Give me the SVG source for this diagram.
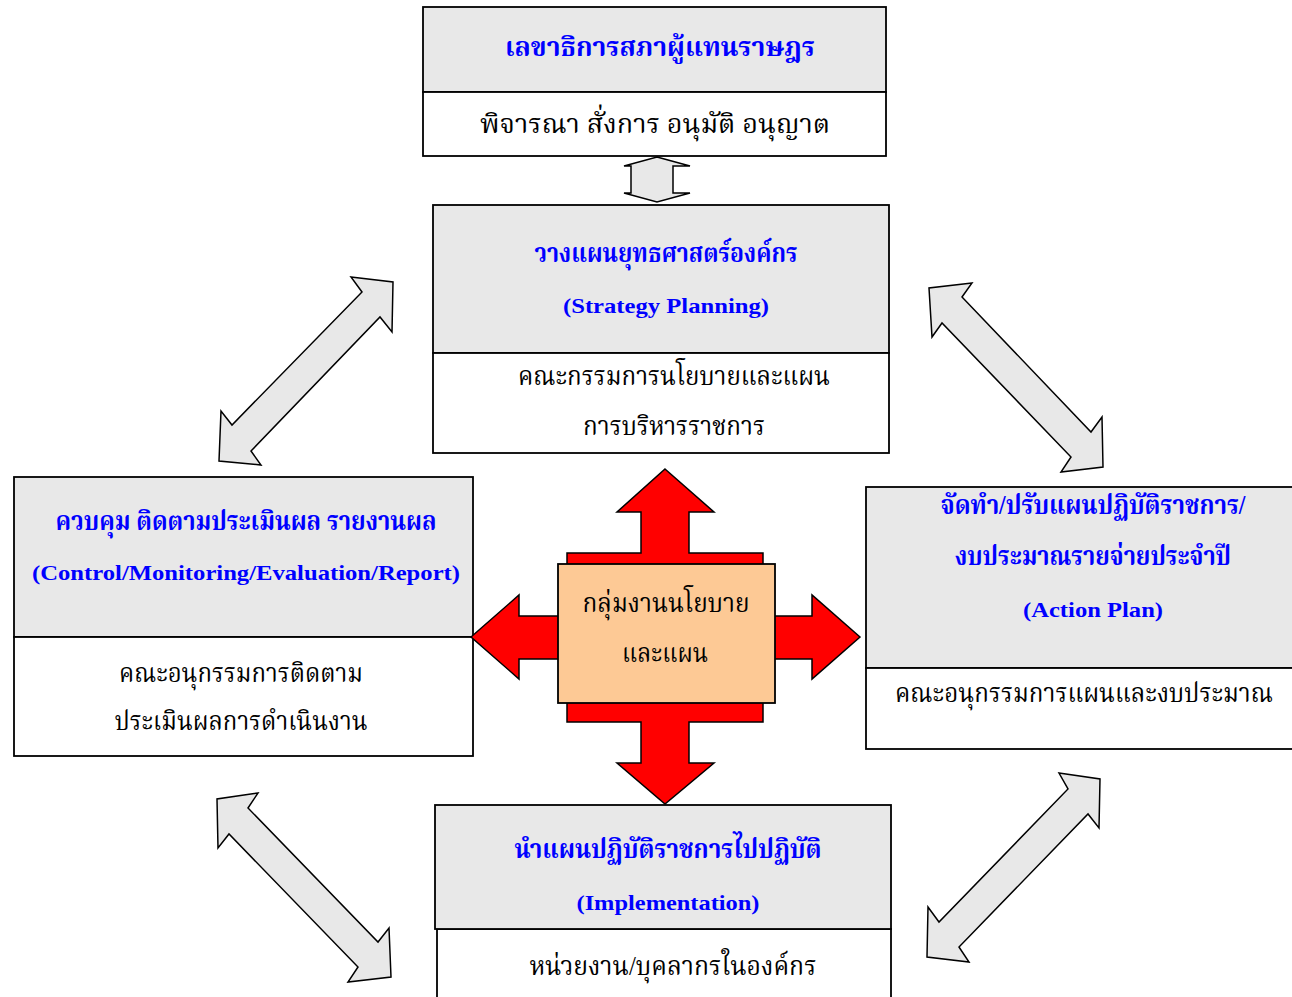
<svg xmlns="http://www.w3.org/2000/svg" width="1292" height="997" viewBox="0 0 1292 997">
<style>
.gray{fill:#E8E8E8;stroke:#000;stroke-width:1.8}
.white{fill:#FFFFFF;stroke:#000;stroke-width:1.8}
.dbl{fill:#E8E8E8;stroke:#000;stroke-width:1.5;stroke-linejoin:miter}
.red{fill:#FF0000;stroke:#000;stroke-width:1.5}
.core{fill:#FDC995;stroke:#000;stroke-width:1.8}
text{text-anchor:middle;font-family:"Liberation Serif","Noto Serif Thai","Noto Sans Thai","DejaVu Sans",serif}
.t{fill:#0000FF;font-weight:bold;font-size:27px}
.e{fill:#0000FF;font-weight:bold;font-size:22px}
.s{fill:#000;font-size:27px}
</style>
<rect width="1292" height="997" fill="#FFFFFF"/>
<g id="connectors">
<polygon class="dbl" points="657,157 690,166 673,166 673,193 690,193 657,202 624,193 631,193 631,166 624,166"/>
<polygon class="dbl" points="351,277 393,282 392,332 380,317 251,451 261,465 219,461 221,411 232,425 362,292"/>
<polygon class="dbl" points="972,283 929,288 932,337 942,323 1071,457 1061,472 1103,467 1102,417 1091,432 962,297"/>
<polygon class="dbl" points="258,793 217,799 218,848 229,834 358,967 348,982 391,977 389,928 378,942 248,808"/>
<polygon class="dbl" points="1059,773 1100,779 1099,828 1088,814 959,947 969,962 927,957 928,907 939,922 1068,789"/>
</g>
<g id="top">
<rect class="gray" x="423" y="7" width="463" height="85"/>
<rect class="white" x="423" y="92" width="463" height="64"/>
<text class="t" x="660" y="56" textLength="310" lengthAdjust="spacingAndGlyphs">เลขาธิการสภาผู้แทนราษฎร</text>
<text class="s" x="655" y="133" textLength="350" lengthAdjust="spacingAndGlyphs">พิจารณา สั่งการ อนุมัติ อนุญาต</text>
</g>
<g id="strategy">
<rect class="gray" x="433" y="205" width="456" height="148"/>
<rect class="white" x="433" y="353" width="456" height="100"/>
<text class="t" x="666" y="262" textLength="263" lengthAdjust="spacingAndGlyphs">วางแผนยุทธศาสตร์องค์กร</text>
<text class="e" x="666" y="313" textLength="206" lengthAdjust="spacingAndGlyphs">(Strategy Planning)</text>
<text class="s" x="674" y="385" textLength="312" lengthAdjust="spacingAndGlyphs">คณะกรรมการนโยบายและแผน</text>
<text class="s" x="674" y="435" textLength="182" lengthAdjust="spacingAndGlyphs">การบริหารราชการ</text>
</g>
<g id="control">
<rect class="gray" x="14" y="477" width="459" height="160"/>
<rect class="white" x="14" y="637" width="459" height="119"/>
<text class="t" x="246" y="530" textLength="381" lengthAdjust="spacingAndGlyphs">ควบคุม ติดตามประเมินผล รายงานผล</text>
<text class="e" x="246" y="580" textLength="428" lengthAdjust="spacingAndGlyphs">(Control/Monitoring/Evaluation/Report)</text>
<text class="s" x="241" y="682" textLength="244" lengthAdjust="spacingAndGlyphs">คณะอนุกรรมการติดตาม</text>
<text class="s" x="241" y="730" textLength="253" lengthAdjust="spacingAndGlyphs">ประเมินผลการดำเนินงาน</text>
</g>
<g id="action">
<rect class="gray" x="866" y="487" width="430" height="181"/>
<rect class="white" x="866" y="668" width="430" height="81"/>
<text class="t" x="1093" y="514" textLength="305" lengthAdjust="spacingAndGlyphs">จัดทำ/ปรับแผนปฏิบัติราชการ/</text>
<text class="t" x="1093" y="565" textLength="276" lengthAdjust="spacingAndGlyphs">งบประมาณรายจ่ายประจำปี</text>
<text class="e" x="1093" y="617" textLength="140" lengthAdjust="spacingAndGlyphs">(Action Plan)</text>
<text class="s" x="1084" y="702" textLength="378" lengthAdjust="spacingAndGlyphs">คณะอนุกรรมการแผนและงบประมาณ</text>
</g>
<g id="implementation">
<rect class="white" x="437" y="929" width="454" height="80"/>
<rect class="gray" x="435" y="805" width="456" height="124"/>
<text class="t" x="668" y="858" textLength="307" lengthAdjust="spacingAndGlyphs">นำแผนปฏิบัติราชการไปปฏิบัติ</text>
<text class="e" x="668" y="910" textLength="183" lengthAdjust="spacingAndGlyphs">(Implementation)</text>
<text class="s" x="673" y="975" textLength="287" lengthAdjust="spacingAndGlyphs">หน่วยงาน/บุคลากรในองค์กร</text>
</g>
<g id="center">
<polygon class="red" points="665,469 714,512 689,512 689,553 763,553 763,722 689,722 689,763 714,763 665,804 617,763 641,763 641,722 567,722 567,553 641,553 641,512 617,512"/>
<polygon class="red" points="471,637 519,595 519,616 560,616 560,659 519,659 519,679"/>
<polygon class="red" points="860,637 812,595 812,616 772,616 772,659 812,659 812,679"/>
<rect class="core" x="558" y="564" width="217" height="139"/>
<text class="s" x="666" y="612" font-size="26" textLength="167" lengthAdjust="spacingAndGlyphs">กลุ่มงานนโยบาย</text>
<text class="s" x="665" y="662" font-size="26" textLength="86" lengthAdjust="spacingAndGlyphs">และแผน</text>
</g>
</svg>
